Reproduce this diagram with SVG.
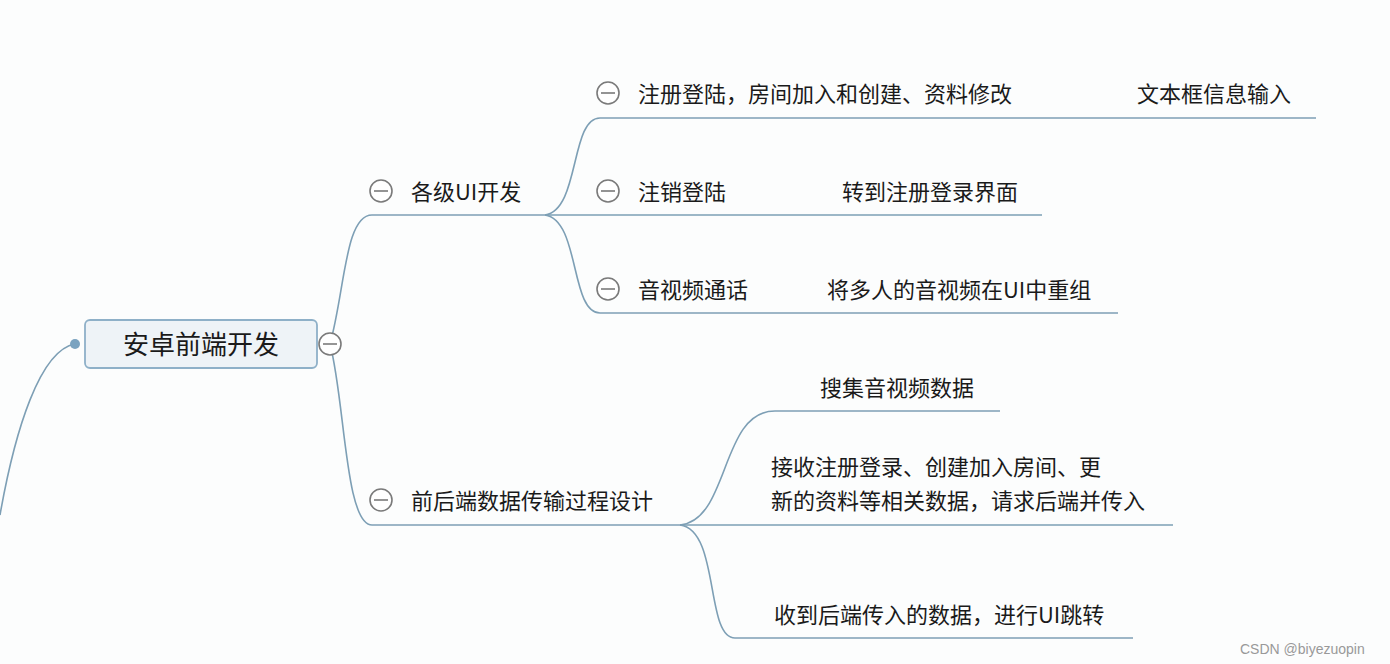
<svg xmlns="http://www.w3.org/2000/svg" width="1390" height="664" viewBox="0 0 1390 664">
<style>
text{font-family:"Noto Sans CJK SC","Liberation Sans",sans-serif;fill:#1a1a1a}
.t{font-size:22px}
.l{fill:none;stroke:#7d9fb5;stroke-width:1.6}
.c{fill:#fff;stroke:#7a7a7a;stroke-width:1.6}
.m{stroke:#7a7a7a;stroke-width:1.6}
</style>
<rect width="1390" height="664" fill="#fcfdfd"/>
<g id="connectors">
<path class="l" d="M75,344 C40,350 15,430 0,515"/>
<path class="l" d="M330,344 C345,290 345,215 372,215 L545,215"/>
<path class="l" d="M330,344 C345,400 345,525 372,525 L680,525"/>
<path class="l" d="M545,215 C580,210 570,118 600,118 L1316,118"/>
<path class="l" d="M545,215 L1042,215"/>
<path class="l" d="M545,215 C580,220 570,313 600,313 L1118,313"/>
<path class="l" d="M680,525 C730,520 720,411 775,411 L1000,411"/>
<path class="l" d="M680,525 L1173,525"/>
<path class="l" d="M680,525 C720,530 705,638 735,638 L1133,638"/>
</g>
<g id="root">
<circle cx="75" cy="344" r="5" fill="#7aa3c0"/>
<rect x="85" y="320" width="232" height="48" rx="5" fill="#eef3f7" stroke="#8eb0c8" stroke-width="1.8"/>
<text x="201" y="354" font-size="26" text-anchor="middle">安卓前端开发</text>
<circle class="c" cx="330" cy="344" r="11"/><line class="m" x1="323" y1="344" x2="337" y2="344"/>
</g>
<g id="n1">
<circle class="c" cx="381" cy="191" r="11"/><line class="m" x1="374" y1="191" x2="388" y2="191"/>
<text class="t" x="411" y="200">各级UI开发</text>
</g>
<g id="n1a">
<circle class="c" cx="608" cy="93" r="11"/><line class="m" x1="601" y1="93" x2="615" y2="93"/>
<text class="t" x="638" y="102">注册登陆，房间加入和创建、资料修改</text>
</g>
<g id="n1a1"><text class="t" x="1137" y="102">文本框信息输入</text></g>
<g id="n1b">
<circle class="c" cx="608" cy="191" r="11"/><line class="m" x1="601" y1="191" x2="615" y2="191"/>
<text class="t" x="638" y="200">注销登陆</text>
</g>
<g id="n1b1"><text class="t" x="842" y="200">转到注册登录界面</text></g>
<g id="n1c">
<circle class="c" cx="608" cy="289" r="11"/><line class="m" x1="601" y1="289" x2="615" y2="289"/>
<text class="t" x="638" y="298">音视频通话</text>
</g>
<g id="n1c1"><text class="t" x="827" y="298">将多人的音视频在UI中重组</text></g>
<g id="n2">
<circle class="c" cx="381" cy="500" r="11"/><line class="m" x1="374" y1="500" x2="388" y2="500"/>
<text class="t" x="411" y="509">前后端数据传输过程设计</text>
</g>
<g id="n2a"><text class="t" x="820" y="396">搜集音视频数据</text></g>
<g id="n2b"><text class="t" x="771" y="475">接收注册登录、创建加入房间、更</text><text class="t" x="771" y="509">新的资料等相关数据，请求后端并传入</text></g>
<g id="n2c"><text class="t" x="774" y="623">收到后端传入的数据，进行UI跳转</text></g>
<text x="1240" y="654" font-size="14" style="fill:#999;font-family:'Liberation Sans',sans-serif">CSDN @biyezuopin</text>
</svg>
